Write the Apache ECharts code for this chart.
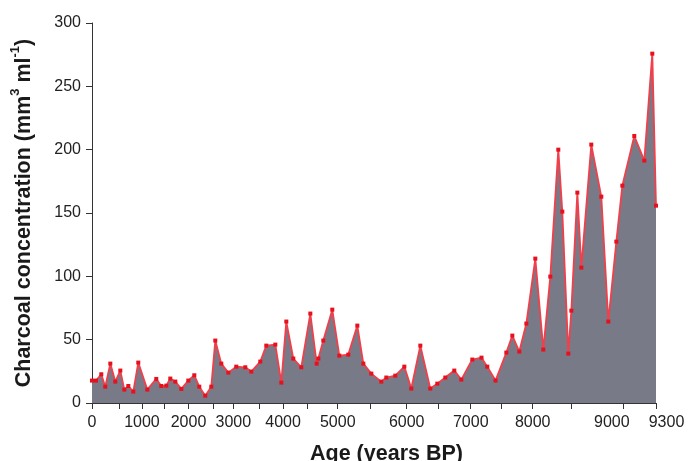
<!DOCTYPE html>
<html>
<head>
<meta charset="utf-8">
<script src="https://cdn.jsdelivr.net/npm/echarts@6/dist/echarts.min.js"></script>
<style>
  html, body { margin: 0; padding: 0; background: #fff; }
  #chart { width: 688px; height: 461px; }
</style>
</head>
<body>
<div id="chart"></div>
<script>
// Position of each sample along the (non-linear) age axis, in axis units (0 .. 9300)
const samplePos = [0, 66, 153, 219, 302, 384, 467, 533, 599, 681, 763, 912, 1060, 1143, 1225, 1291, 1374, 1473, 1588, 1687,
  1769, 1868, 1967, 2033, 2132, 2248, 2379, 2528, 2627, 2775, 2874, 3023, 3122, 3204, 3319, 3451, 3600, 3705, 3732, 3814,
  3962, 4078, 4226, 4375, 4474, 4606, 4770, 4853, 5001, 5150, 5265, 5414, 5578, 5694, 5826, 5974, 6090, 6271, 6423, 6518,
  6654, 6832, 6931, 7046, 7162, 7310, 7442, 7557, 7689, 7755, 7854, 7904, 8003, 8069, 8233, 8398, 8514, 8646, 8745, 8942,
  9107, 9239, 9300];
// Charcoal concentration (mm3 ml-1)
const charcoal = [17.7, 17.7, 22.7, 12.9, 31.1, 16.9, 25.6, 10.6, 13.4, 9.0, 31.9, 10.6, 19.0, 13.4, 13.7, 19.3, 16.9, 11.1, 17.7, 21.9,
  12.9, 5.8, 12.9, 49.3, 31.1, 24.0, 28.7, 28.2, 24.8, 32.7, 45.3, 46.1, 16.1, 64.3, 35.1, 28.2, 70.6, 31.1, 35.1, 49.3,
  73.7, 37.4, 38.2, 61.1, 31.1, 23.2, 16.9, 20.1, 21.6, 28.7, 11.4, 45.3, 11.4, 15.3, 20.1, 25.6, 18.5, 34.3, 35.8, 28.7,
  17.7, 39.8, 53.2, 40.6, 62.7, 114.0, 42.2, 99.8, 200.0, 151.1, 39.0, 72.9, 166.1, 106.9, 204.0, 162.9, 64.3, 127.4, 171.6, 210.8,
  191.4, 275.8, 155.8];
// Tick marks of the age axis (every 500 years, plus 9300), in axis units
const tickPos = [0, 445, 824, 1187, 1591, 2004, 2330, 2759, 3150, 3554, 4052, 4584, 5189, 5714, 6245, 6753, 7267, 7899, 8761, 9300];
// Labelled ticks
const labelPos = [0, 824, 1591, 2330, 3150, 4052, 5189, 6245, 7267, 8761, 9300];
const labelText = ['0', '1000', '2000', '3000', '4000', '5000', '6000', '7000', '8000', '9000', '9300'];
const yTicks = [0, 50, 100, 150, 200, 250, 300];

const FONT = "'Liberation Sans', Arial, Helvetica, sans-serif";
const chart = echarts.init(document.getElementById('chart'), null, { renderer: 'canvas' });

const seriesData = samplePos.map((p, i) => [p, charcoal[i]]);

chart.setOption({
  animation: false,
  backgroundColor: '#ffffff',
  grid: { left: 92, top: 23, width: 564, height: 380, containLabel: false, outerBoundsMode: 'none' },
  xAxis: {
    type: 'value',
    min: 0,
    max: 9300,
    name: 'Age (years BP)',
    nameLocation: 'middle',
    nameGap: 40,
    nameTextStyle: { fontFamily: FONT, fontSize: 21.5, fontWeight: 'bold', color: '#1a1a1a', padding: [0, 0, 0, 25] },
    axisLine: { show: true, lineStyle: { color: '#333', width: 1 } },
    axisTick: { show: true, length: 6, inside: false, lineStyle: { color: '#333', width: 1 }, customValues: tickPos },
    axisLabel: {
      show: true,
      margin: 12,
      fontFamily: FONT,
      fontSize: 16,
      color: '#222',
      customValues: labelPos,
      formatter: function (v) {
        const i = labelPos.indexOf(v);
        if (i < 0) return '';
        const t = labelText[i];
        if (t === '9000') return '{l|' + t + '}';
        if (t === '9300') return '{r|' + t + '}';
        return t;
      },
      rich: {
        l: { fontFamily: FONT, fontSize: 16, color: '#222', padding: [0, 23, 0, 0] },
        r: { fontFamily: FONT, fontSize: 16, color: '#222', padding: [0, 0, 0, 21] }
      }
    },
    splitLine: { show: false }
  },
  yAxis: {
    type: 'value',
    min: 0,
    max: 300,
    interval: 50,
    name: '{t|Charcoal concentration (mm}{s|3}{t| ml}{s|-1}{t|)}',
    nameLocation: 'middle',
    nameGap: 57,
    nameRotate: 90,
    nameTextStyle: {
      fontFamily: FONT, fontSize: 21.5, fontWeight: 'bold', color: '#1a1a1a',
      rich: {
        t: { fontFamily: FONT, fontSize: 21.5, fontWeight: 'bold', color: '#1a1a1a', lineHeight: 26, verticalAlign: 'bottom' },
        s: { fontFamily: FONT, fontSize: 13, fontWeight: 'bold', color: '#1a1a1a', lineHeight: 26, verticalAlign: 'top' }
      }
    },
    axisLine: { show: true, lineStyle: { color: '#333', width: 1 } },
    axisTick: { show: true, length: 6, lineStyle: { color: '#333', width: 1 } },
    axisLabel: {
      margin: 11,
      fontFamily: FONT,
      fontSize: 16,
      color: '#222',
      customValues: yTicks
    },
    splitLine: { show: false }
  },
  series: [{
    type: 'line',
    data: seriesData,
    showSymbol: true,
    showAllSymbol: true,
    symbol: 'rect',
    symbolSize: 4,
    itemStyle: { color: '#e8101c' },
    lineStyle: { color: '#f0404b', width: 1.8 },
    areaStyle: { color: '#787a88', opacity: 1 },
    emphasis: { disabled: true },
    clip: false
  }]
});
</script>
</body>
</html>
